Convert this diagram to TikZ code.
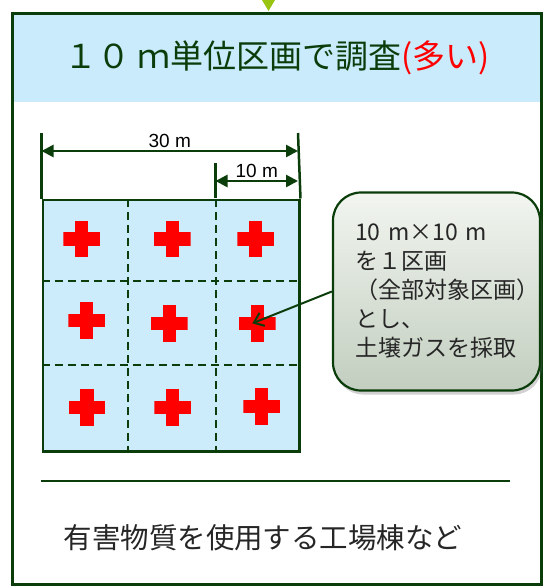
\documentclass[tikz,border=0pt]{standalone}
\usepackage{fontspec}
\setmainfont{Noto Sans CJK JP}
\newfontfamily\lat{Liberation Sans}
\usetikzlibrary{arrows.meta,shadows}
\definecolor{dkg}{HTML}{0B3D0B}
\definecolor{hdrc}{HTML}{C9EBFB}
\definecolor{cellc}{HTML}{CCECFB}
\definecolor{limec}{HTML}{99C410}
\definecolor{notetop}{HTML}{F2F5F0}
\definecolor{notebot}{HTML}{C2CEBF}
\tikzset{
  frame/.style={draw=dkg, line width=2.5pt, inner sep=0pt},
  dashline/.style={draw=dkg, line width=2.2pt, dash pattern=on 8pt off 5pt},
  extline/.style={draw=dkg, line width=2.5pt},
  dimarrow/.style={draw=dkg, line width=2.6pt, {Triangle[length=12pt,width=12pt]}-{Triangle[length=12pt,width=12pt]}},
  dimlabel/.style={font=\lat\fontsize{19}{19}\selectfont, text=black, inner sep=1pt},
  crossmark/.style={minimum size=36.7pt, inner sep=0pt,
    path picture={
      \fill[red] ([yshift=-6.6pt]path picture bounding box.west) rectangle ([yshift=6.6pt]path picture bounding box.east);
      \fill[red] ([xshift=-6.6pt]path picture bounding box.south) rectangle ([xshift=6.6pt]path picture bounding box.north);
    }},
  notebox/.style={draw=dkg, line width=2.2pt, rounded corners=28pt,
    top color=notetop, bottom color=notebot,
    drop shadow={shadow xshift=2pt, shadow yshift=-4pt, opacity=0.3, fill=black!60},
    minimum width=207pt, minimum height=198pt, text width=163pt, inner xsep=22pt,
    align=left, font=\fontsize{23}{29}\selectfont, text=black!85},
  pointer/.style={draw=dkg, line width=2pt, -{Straight Barb[length=9pt,width=14pt]}}
}
\begin{document}
\begin{tikzpicture}[x=1pt,y=1pt]
\useasboundingbox (0,0) rectangle (543,-587);
% header band
\node[fill=hdrc, minimum width=529pt, minimum height=90pt, anchor=north west, inner sep=0pt] (hdr) at (11,-12) {};
\node[text=dkg, font=\fontsize{33}{33}\selectfont] (title) at (277,-58) {１０ ｍ単位区画で調査\textcolor{red}{(多い)}};
% outer frame
\node[frame, minimum width=529pt, minimum height=571pt, anchor=north west] (outer) at (11,-12) {};
% top triangle
\fill[limec] (262,0) -- (275,0) -- (268.5,-11) -- cycle;
% grid
\node[frame, fill=cellc, minimum width=256.5pt, minimum height=251.5pt, anchor=north west] (grid) at (41.5,-198.5) {};
\draw[dashline] (128,-199) -- (128,-450);
\draw[dashline] (216,-199) -- (216,-450);
\draw[dashline] (42,-281) -- (298,-281);
\draw[dashline] (42,-365) -- (298,-365);
% dimensions
\coordinate (d30a) at (41.5,-151);
\coordinate (d30b) at (298,-151);
\coordinate (d10a) at (215.5,-181);
\coordinate (d10b) at (298,-181);
\draw[extline] (41.5,-133) -- (grid.north west);
\draw[extline] (298,-133) -- (grid.north east);
\draw[extline] (215.5,-163) -- (215.5,-198);
\draw[dimarrow] (d30a) -- (d30b) node[dimlabel, midway, above=1pt] (l30) {30 m};
\draw[dimarrow] (d10a) -- (d10b) node[dimlabel, midway, above=1pt] (l10) {10 m};
% crosses
\node[crossmark] (c11) at (81.7,-239) {};
\node[crossmark] (c12) at (172.3,-239) {};
\node[crossmark] (c13) at (255.7,-239) {};
\node[crossmark] (c21) at (86.7,-320.7) {};
\node[crossmark] (c22) at (169.3,-323.3) {};
\node[crossmark] (c23) at (257.3,-323.3) {};
\node[crossmark] (c31) at (87,-407.3) {};
\node[crossmark] (c32) at (172.7,-407.3) {};
\node[crossmark] (c33) at (261.7,-406.7) {};
% callout
\node[notebox] (note) at (436.5,-291.5) {10 m×10 m\\を１区画\\（全部対象区画）\\とし、\\土壌ガスを採取};
\draw[pointer] (note.west) -- ([xshift=-5pt]c23.center);
% separator and caption
\coordinate (sepa) at (41,-481);
\coordinate (sepb) at (510,-481);
\draw[dkg, line width=2.5pt] (sepa) -- (sepb);
\node[text=black!85, font=\fontsize{28.5}{28.5}\selectfont] (caption) at (263,-538) {有害物質を使用する工場棟など};
\end{tikzpicture}
\end{document}
